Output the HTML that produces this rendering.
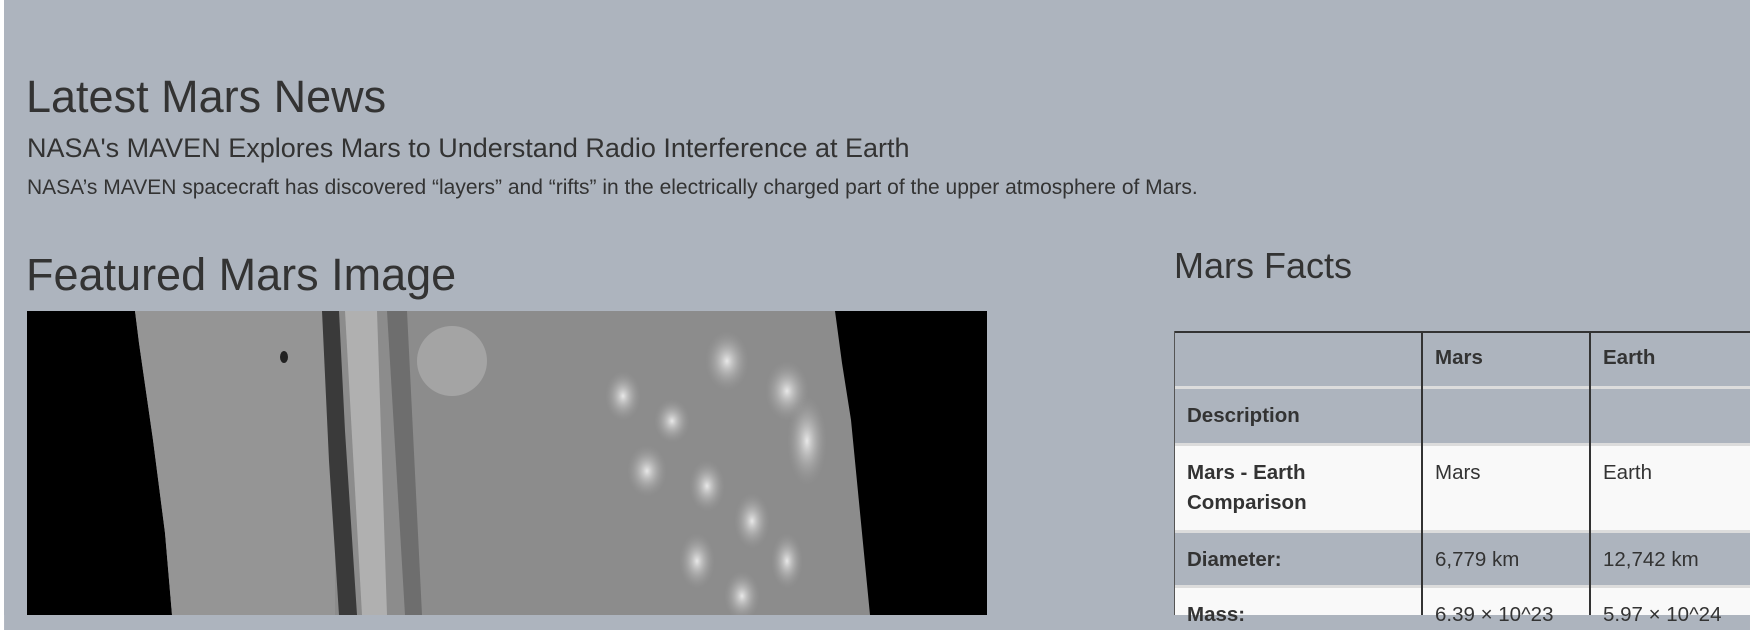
<!DOCTYPE html>
<html style="background:linear-gradient(to right,#fff 0,#fff 4px,#adb4be 4px);"><head><meta charset="utf-8">
<style>
html,body{margin:0;padding:0;}
body{width:1750px;height:615px;overflow:hidden;background:transparent;position:relative;font-family:"Liberation Sans",Arial,sans-serif;color:#333;}
#bg{position:absolute;left:4px;top:0;width:1746px;height:615px;background:#adb4be;}
.t{position:absolute;white-space:nowrap;margin:0;font-weight:normal;line-height:1;}
#photo{position:absolute;left:27px;top:311px;width:960px;height:304px;background:#000;overflow:hidden;}
.cell{position:absolute;box-sizing:border-box;padding:12px 0 0 13px;font-size:20.5px;line-height:30px;color:#333;}
.b{font-weight:bold;}
.vl{position:absolute;width:2px;background:#333;}
.hl{position:absolute;height:3px;background:#dcdcdc;left:1174px;width:576px;}
</style></head>
<body>
<div id="bg"></div>

<h1 class="t" style="left:26px;top:74px;font-size:45px;">Latest Mars News</h1>
<h3 class="t" style="left:27px;top:135px;font-size:27px;">NASA's MAVEN Explores Mars to Understand Radio Interference at Earth</h3>
<p class="t" style="left:27px;top:177px;font-size:21px;">NASA’s MAVEN spacecraft has discovered “layers” and “rifts” in the electrically charged part of the upper atmosphere of Mars.</p>

<h2 class="t" style="left:26px;top:252px;font-size:45px;">Featured Mars Image</h2>

<div id="photo">
<svg width="960" height="304" viewBox="0 0 960 304">
<defs>
<clipPath id="cp"><polygon points="108,0 808,0 815,52 824,109 843,304 145,304 138,222 126,129 112,32"/></clipPath>
<radialGradient id="blob"><stop offset="0" stop-color="#e8e8e8"/><stop offset="1" stop-color="#9a9a9a" stop-opacity="0"/></radialGradient>
</defs>
<g clip-path="url(#cp)">
<rect x="0" y="0" width="960" height="304" fill="#8c8c8c"/>
<rect x="108" y="0" width="200" height="304" fill="#959595"/>
<path d="M295,0 L312,0 L318,120 L330,304 L312,304 L302,150 Z" fill="#3a3a3a"/>
<path d="M318,0 L350,0 L360,304 L335,304 Z" fill="#b0b0b0"/>
<path d="M360,0 L380,0 L395,304 L378,304 Z" fill="#6e6e6e"/>
<ellipse cx="425" cy="50" rx="35" ry="35" fill="#a4a4a4"/>
<ellipse cx="596" cy="85" rx="18" ry="25" fill="url(#blob)"/>
<ellipse cx="645" cy="110" rx="18" ry="22" fill="url(#blob)"/>
<ellipse cx="700" cy="50" rx="22" ry="30" fill="url(#blob)"/>
<ellipse cx="760" cy="80" rx="22" ry="30" fill="url(#blob)"/>
<ellipse cx="620" cy="160" rx="20" ry="26" fill="url(#blob)"/>
<ellipse cx="680" cy="175" rx="18" ry="26" fill="url(#blob)"/>
<ellipse cx="780" cy="130" rx="20" ry="45" fill="url(#blob)"/>
<ellipse cx="725" cy="210" rx="18" ry="28" fill="url(#blob)"/>
<ellipse cx="670" cy="250" rx="18" ry="28" fill="url(#blob)"/>
<ellipse cx="760" cy="250" rx="16" ry="28" fill="url(#blob)"/>
<ellipse cx="715" cy="285" rx="18" ry="25" fill="url(#blob)"/>
<ellipse cx="257" cy="46" rx="4" ry="6" fill="#222"/>
</g>
</svg>
</div>

<h2 class="t" style="left:1174px;top:248px;font-size:36px;">Mars Facts</h2>

<div>
<div style="position:absolute;left:1174px;top:331px;width:576px;height:284px;background:#adb4be;"></div>
<div style="position:absolute;left:1174px;top:446px;width:576px;height:84px;background:#f9f9f9;"></div>
<div style="position:absolute;left:1174px;top:588px;width:576px;height:27px;background:#f9f9f9;"></div>
<div style="position:absolute;left:1174px;top:331px;width:576px;height:2px;background:#333;"></div>
<div class="hl" style="top:386px;"></div>
<div class="hl" style="top:443px;"></div>
<div class="hl" style="top:530px;"></div>
<div class="hl" style="top:585px;"></div>
<div class="vl" style="left:1174px;top:331px;height:284px;width:1px;background:#555;"></div>
<div class="vl" style="left:1421px;top:331px;height:284px;"></div>
<div class="vl" style="left:1589px;top:331px;height:284px;"></div>

<div class="cell b" style="left:1422px;top:331px;">Mars</div>
<div class="cell b" style="left:1590px;top:331px;">Earth</div>
<div class="cell b" style="left:1174px;top:389px;">Description</div>
<div class="cell b" style="left:1174px;top:446px;width:240px;">Mars - Earth<br>Comparison</div>
<div class="cell" style="left:1422px;top:446px;">Mars</div>
<div class="cell" style="left:1590px;top:446px;">Earth</div>
<div class="cell b" style="left:1174px;top:533px;">Diameter:</div>
<div class="cell" style="left:1422px;top:533px;">6,779 km</div>
<div class="cell" style="left:1590px;top:533px;">12,742 km</div>
<div class="cell b" style="left:1174px;top:588px;">Mass:</div>
<div class="cell" style="left:1422px;top:588px;">6.39 × 10^23</div>
<div class="cell" style="left:1590px;top:588px;">5.97 × 10^24</div>
</div>
</body></html>
